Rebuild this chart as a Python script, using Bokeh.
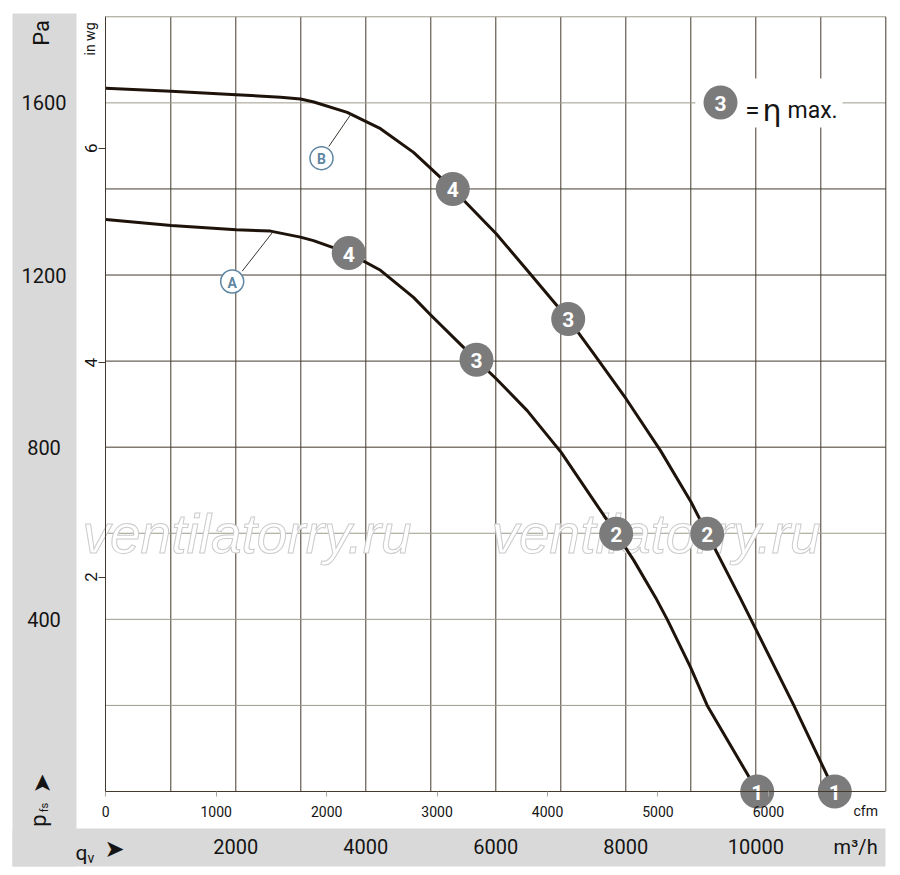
import math
from bokeh.plotting import figure
from bokeh.models import Range1d, LinearAxis, FixedTicker, BoxAnnotation, Label
from bokeh.core.properties import value
from bokeh.embed import file_html
from bokeh.resources import INLINE

# ---------------- data ----------------
# curve B (upper), flow in m3/h, static pressure in Pa
flow_B = [0, 1006, 2006, 2688, 2995, 3200, 3714, 4226, 4734, 5338,
          6006, 6483, 7114, 7508, 8006, 8534, 9006, 9252, 9765,
          10585, 11215]
pa_B = [1634, 1627, 1619, 1613, 1609, 1602, 1578, 1540, 1485, 1400,
        1296, 1211, 1098, 1017, 912, 792, 672, 599, 448,
        200, 0]
# curve A (lower)
flow_A = [0, 1006, 2006, 2534, 2995, 3195, 3738, 4226, 4734, 5006, 5457,
          5703, 6006, 6483, 7006, 7508, 7852, 8123, 8457, 8637,
          8995, 9252, 9868, 10022]
pa_A = [1329, 1315, 1305, 1302, 1288, 1280, 1251, 1211, 1148, 1106, 1039,
        1003, 959, 885, 788, 676, 599, 537, 451, 400,
        289, 200, 41, 0]

# operating points 4,3,2,1 on each curve
mark_labels = ["4", "3", "2", "1"]
mark_B_flow = [5338, 7114, 9252, 11215]
mark_B_pa = [1400, 1098, 599, 0]
mark_A_flow = [3738, 5703, 7852, 10022]
mark_A_pa = [1251, 1003, 599, 0]

# axes / ticks
pa_ticks = [400, 800, 1200, 1600]
inwg_ticks = [2, 4, 6]
cfm_ticks = [0, 1000, 2000, 3000, 4000, 5000, 6000]
m3h_ticks = [2000, 4000, 6000, 8000, 10000]
grid_x = [1000, 2000, 3000, 4000, 5000, 6000, 7000, 8000, 9000, 10000, 11000]
grid_y_dark = [800, 1000, 1200, 1400]
grid_y_light = [200, 400, 600, 1600]
X_MAX = 12000
Y_MAX = 1800
CFM = 1.699011      # m3/h per cfm
INWG = 249.089      # Pa per in wg

# ---------------- geometry / style ----------------
W, H = 892, 872
FX0, KX = 105.3, 0.065     # canvas px of flow 0, px per m3/h
FY0, KY = 791.0, 0.4304    # canvas px of 0 Pa, px per Pa

def fx(px):  # flow value at canvas x (decorations only)
    return (px - FX0) / KX

def fy(py):  # pressure value at canvas y (decorations only)
    return (FY0 - py) / KY

def sy(py):  # bokeh screen y (from bottom)
    return H - py

DARK = "#43392d"
LIGHT = "#9d998c"
CURVE = "#1e130a"
GRAYM = "#7b7b7b"
BLUE = "#5f86a3"
STRIP = "#d9d9d9"
SANS = "Roboto"
INK = "#141414"

x_range = Range1d(-FX0 / KX, (W - FX0) / KX)
y_range = Range1d(-(H - FY0) / KY, FY0 / KY)

p = figure(width=W, height=H, x_range=x_range, y_range=y_range,
           x_axis_type=None, y_axis_type=None, toolbar_location=None,
           output_backend="svg", title_location=None,
           background_fill_color="white", border_fill_color="white",
           outline_line_color=None)
p.min_border = 0
p.min_border_left = p.min_border_right = p.min_border_top = p.min_border_bottom = 0

p.extra_x_ranges = {"cfm": Range1d(x_range.start / CFM, x_range.end / CFM)}
p.extra_y_ranges = {"inwg": Range1d(y_range.start / INWG, y_range.end / INWG)}

# gray strips
p.add_layout(BoxAnnotation(left=12, right=76, bottom=sy(866), top=sy(13),
                           left_units="screen", right_units="screen",
                           bottom_units="screen", top_units="screen",
                           fill_color=STRIP, fill_alpha=1, line_color=None,
                           level="underlay"))
p.add_layout(BoxAnnotation(left=12, right=885, bottom=sy(866), top=sy(828),
                           left_units="screen", right_units="screen",
                           bottom_units="screen", top_units="screen",
                           fill_color=STRIP, fill_alpha=1, line_color=None,
                           level="underlay"))

# grid
p.segment(x0=grid_x, y0=0, x1=grid_x, y1=Y_MAX, line_color=DARK, line_width=1)
p.segment(x0=0, y0=grid_y_dark, x1=X_MAX, y1=grid_y_dark, line_color=DARK, line_width=1)
p.segment(x0=0, y0=grid_y_light, x1=X_MAX, y1=grid_y_light, line_color=LIGHT, line_width=1)
p.segment(x0=[0], y0=[Y_MAX], x1=[X_MAX], y1=[Y_MAX], line_color=LIGHT, line_width=1)
p.segment(x0=[X_MAX], y0=[0], x1=[X_MAX], y1=[Y_MAX], line_color=DARK, line_width=1)

# watermark
p.text(x=[fx(82), fx(491)], y=[fy(533), fy(533)], text=["ventilatorry.ru"] * 2,
       text_font=value("Liberation Sans"), text_font_style="italic",
       text_font_size="55px", text_color="white", text_outline_color="#cbcbcb",
       text_align="left", text_baseline="alphabetic")

# legend box "3 = eta max."
p.quad(left=[fx(695)], right=[fx(842)], bottom=[fy(127)], top=[fy(78)],
       fill_color="white", line_color=None)
p.scatter(x=[fx(720)], y=[fy(102)], size=34, fill_color=GRAYM, line_color=None)
p.text(x=[fx(720)], y=[fy(102)], text=["3"], text_color="white",
       text_font=value(SANS), text_font_style="bold", text_font_size="21px",
       text_align="center", text_baseline="middle", y_offset=1)
p.text(x=[fx(752)], y=[fy(109)], text=["="], text_color=INK,
       text_font=value(SANS), text_font_size="26px",
       text_align="center", text_baseline="middle")
p.text(x=[fx(762)], y=[fy(110)], text=["η"], text_color=INK,
       text_font=value("DejaVu Sans"), text_font_size="30px",
       text_align="left", text_baseline="alphabetic")
p.text(x=[fx(787)], y=[fy(110)], text=["max."], text_color=INK,
       text_font=value(SANS), text_font_size="23px",
       text_align="left", text_baseline="alphabetic")

# curves
p.line(flow_B, pa_B, line_color=CURVE, line_width=3, line_join="round")
p.line(flow_A, pa_A, line_color=CURVE, line_width=3, line_join="round")

# A / B callouts
p.segment(x0=[fx(241.7), fx(328.3)], y0=[fy(270.7), fy(146)],
          x1=[fx(271.7), fx(350.7)], y1=[fy(232.3), fy(113.3)],
          line_color="#3a3530", line_width=1)
p.scatter(x=[fx(231.7), fx(321)], y=[fy(281), fy(157.7)], size=23,
          fill_color="white", line_color=BLUE, line_width=1.5)
p.text(x=[fx(231.7), fx(321)], y=[fy(281), fy(157.7)], text=["A", "B"],
       text_color=BLUE, text_font=value(SANS), text_font_style="bold",
       text_font_size="14px", text_align="center", text_baseline="middle", y_offset=1)

# operating point markers
for fl, pa in ((mark_A_flow, mark_A_pa), (mark_B_flow, mark_B_pa)):
    p.scatter(x=fl, y=pa, size=34, fill_color=GRAYM, line_color=None)
    p.text(x=fl, y=pa, text=mark_labels, text_color="white",
           text_font=value(SANS), text_font_style="bold", text_font_size="21px",
           text_align="center", text_baseline="middle", y_offset=1)

# axes
cfm_axis = LinearAxis(x_range_name="cfm", ticker=FixedTicker(ticks=cfm_ticks),
                      fixed_location=0, bounds=(0, X_MAX / CFM),
                      axis_line_color=DARK, axis_line_width=1,
                      major_tick_in=0, major_tick_out=5,
                      major_tick_line_color="#a8a49a", minor_tick_line_color=None,
                      major_label_standoff=9, major_label_text_font=SANS,
                      major_label_text_font_size="14px",
                      major_label_text_color=INK)
p.add_layout(cfm_axis, "below")

m3h_axis = LinearAxis(ticker=FixedTicker(ticks=m3h_ticks),
                      fixed_location=fy(838), axis_line_color=None,
                      major_tick_line_color=None, minor_tick_line_color=None,
                      major_tick_in=0, major_tick_out=0,
                      major_label_standoff=0, major_label_text_font=SANS,
                      major_label_text_font_size="20px",
                      major_label_text_color=INK)
p.add_layout(m3h_axis, "below")

inwg_axis = LinearAxis(y_range_name="inwg", ticker=FixedTicker(ticks=inwg_ticks),
                       fixed_location=0, bounds=(0, Y_MAX / INWG),
                       axis_line_color=DARK, axis_line_width=1,
                       major_tick_in=0, major_tick_out=7,
                       major_tick_line_color=DARK, minor_tick_line_color=None,
                       major_label_text_color=None)
p.add_layout(inwg_axis, "left")

# in wg tick labels (rotated) next to the left axis
for v in inwg_ticks:
    p.add_layout(Label(x=90, y=v, x_units="screen", y_units="data",
                       y_range_name="inwg", angle=math.pi / 2,
                       text=str(v), text_align="center", text_baseline="middle",
                       text_font=SANS, text_font_size="17px", text_color=INK))

# Pa labels in the gray strip
for v in pa_ticks:
    p.add_layout(Label(x=43.5, y=v, x_units="screen", y_units="data",
                       text=str(v), text_align="center", text_baseline="middle",
                       text_font=SANS, text_font_size="20px", text_color=INK))

def lab(text, px, py, size, align="center", baseline="middle", angle=0.0,
        font=SANS, color=INK):
    p.add_layout(Label(x=px, y=sy(py), x_units="screen", y_units="screen",
                       text=text, text_align=align, text_baseline=baseline,
                       angle=angle, text_font=font, text_font_size=size,
                       text_color=color))

lab("Pa", 40.5, 32.5, "22px", angle=math.pi / 2)
lab("in wg", 89.5, 38.5, "14px", angle=math.pi / 2)
lab("➤", 41.5, 783, "24px", angle=math.pi / 2, font="DejaVu Sans")
lab("p", 38, 820, "22px", angle=math.pi / 2)
lab("fs", 43.5, 807, "11px", angle=math.pi / 2)
lab("q", 75, 852, "21px", align="left", baseline="alphabetic")
lab("v", 87, 857, "14px", align="left", baseline="alphabetic")
lab("➤", 104, 848, "24px", align="left", font="DejaVu Sans")
lab("m³/h", 833, 846, "20px", align="left")
lab("cfm", 853, 810, "14px", align="left")

open("out.html", "w").write(file_html(p, INLINE))
